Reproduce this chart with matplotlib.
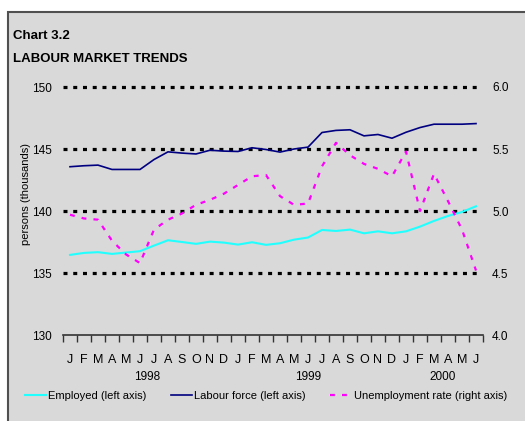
import matplotlib
matplotlib.use("Agg")
import matplotlib.pyplot as plt
from matplotlib.patches import Rectangle
from matplotlib import transforms

# ---------------- data ----------------
months = list("JFMAMJJASOND") * 2 + list("JFMAMJ")
years = ["1998", "1999", "2000"]
year_pos = [5.5, 17.0, 26.6]

employed = [136.46, 136.62, 136.68, 136.54, 136.65, 136.76, 137.21, 137.64, 137.50, 137.35,
            137.53, 137.45, 137.29, 137.48, 137.27, 137.40, 137.69, 137.86, 138.47, 138.39,
            138.50, 138.20, 138.36, 138.20, 138.36, 138.74, 139.20, 139.60, 139.92, 140.38]
labour_force = [143.57, 143.65, 143.70, 143.35, 143.35, 143.35, 144.15, 144.77, 144.67, 144.60,
                144.90, 144.83, 144.80, 145.10, 144.96, 144.75, 145.00, 145.15, 146.33, 146.50,
                146.55, 146.06, 146.17, 145.87, 146.35, 146.73, 147.00, 147.00, 147.00, 147.05]
unemployment = [4.97, 4.94, 4.93, 4.76, 4.65, 4.58, 4.85, 4.93, 4.98, 5.05,
                5.09, 5.14, 5.21, 5.28, 5.29, 5.12, 5.05, 5.06, 5.36, 5.55,
                5.45, 5.38, 5.34, 5.28, 5.48, 5.00, 5.30, 5.08, 4.85, 4.52]

FONT = ["Liberation Sans", "DejaVu Sans"]
BG = "#d9d9d9"

fig = plt.figure(figsize=(5.25, 4.21), dpi=100, facecolor="white")

# grey panel with frame on left / top
fig.patches.append(Rectangle((8 / 525, -0.05), 1.2, 1 - 12 / 421 + 0.05,
                             transform=fig.transFigure, facecolor=BG,
                             edgecolor="#505050", linewidth=1.5, zorder=-10))

fig.text(13 / 525, 1 - 36 / 421, "Chart 3.2", family=FONT, fontweight="bold",
         fontsize=9.5, va="center", ha="left")
fig.text(13 / 525, 1 - 59 / 421, "LABOUR MARKET TRENDS", family=FONT,
         fontweight="bold", fontsize=9.5, va="center", ha="left")

ax = fig.add_axes([63 / 525, 1 - 335 / 421, 420 / 525, 248 / 421])
ax.set_facecolor("none")
x = list(range(len(months)))

ax.set_xlim(-0.5, len(months) - 0.5)
ax.set_ylim(130, 150)
for s in ["left", "right", "top"]:
    ax.spines[s].set_visible(False)
ax.spines["bottom"].set_color("#333333")
ax.spines["bottom"].set_linewidth(1.2)

# dotted gridlines
for gy in [135, 140, 145, 150]:
    ax.plot([-0.5, 29.2], [gy, gy], color="black", lw=2.3,
            linestyle=(0, (1.25, 1.8)), dash_capstyle="butt", zorder=1,
            clip_on=False)

ax.set_yticks([130, 135, 140, 145, 150])
ax.tick_params(axis="y", length=0, pad=8, labelsize=8.5)
for t in ax.get_yticklabels():
    t.set_family(FONT)

ax.set_xticks([i - 0.5 for i in range(len(months) + 1)])
ax.set_xticklabels([])
ax.set_xticks(x, minor=True)
ax.set_xticklabels(months, minor=True)
ax.tick_params(axis="x", which="major", direction="out", length=5, width=1, color="#333333")
ax.tick_params(axis="x", which="minor", length=0, pad=14, labelsize=9)
for t in ax.get_xticklabels(minor=True):
    t.set_family(FONT)

trans = transforms.blended_transform_factory(ax.transData, ax.transAxes)
for yr, xp in zip(years, year_pos):
    ax.text(xp, -0.169, yr, transform=trans, ha="center", va="center",
            family=FONT, fontsize=8.5)

ax.set_ylabel("persons (thousands)", family=FONT, fontsize=8)
ax.yaxis.set_label_coords(-0.076, 0.569)

l1, = ax.plot(x, employed, color="#22ffff", lw=1.5, zorder=3)
l2, = ax.plot(x, labour_force, color="#000080", lw=1.2, zorder=3)

ax2 = ax.twinx()
ax2.set_ylim(4.0, 6.0)
ax2.set_yticks([4.0, 4.5, 5.0, 5.5, 6.0])
ax2.set_yticklabels(["4.0", "4.5", "5.0", "5.5", "6.0"])
for s in ax2.spines.values():
    s.set_visible(False)
ax2.tick_params(axis="y", length=0, pad=6.5, labelsize=8.5)
for t in ax2.get_yticklabels():
    t.set_family(FONT)
l3, = ax2.plot(x, unemployment, color="#ff00ff", lw=1.6,
               linestyle=(0, (2.2, 3.2)), zorder=3)

fig.legend([l1, l2, l3],
           ["Employed (left axis)", "Labour force (left axis)", "Unemployment rate (right axis)"],
           loc="center", bbox_to_anchor=(266 / 525, 1 - 396 / 421), ncol=3, frameon=False,
           prop={"family": FONT, "size": 8}, handlelength=1.9, handletextpad=0.2,
           columnspacing=2.2, borderpad=0)

fig.savefig("out.png", dpi=100, facecolor="white")
